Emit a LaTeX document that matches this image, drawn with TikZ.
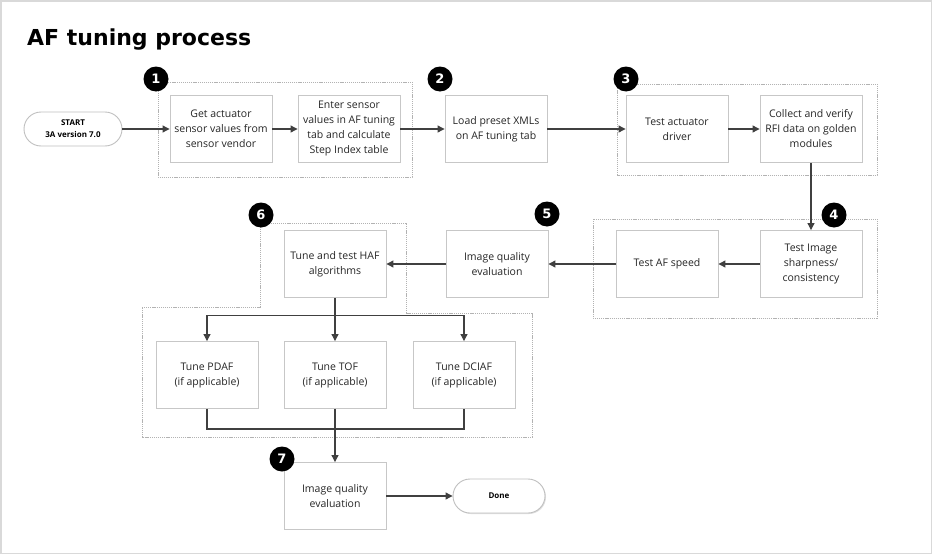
\documentclass[tikz,border=0pt]{standalone}
\usepackage{fontspec}
\setmainfont{Open Sans}
\newfontfamily\titlefont{DejaVu Sans}
\usetikzlibrary{arrows.meta,calc,shadows}

\tikzset{
  stepbox/.style={draw=black!22, line width=0.9pt, minimum width=102pt, minimum height=67pt,
    align=center, font=\fontsize{10.5}{15}\selectfont, text=black!85},
  pill/.style={draw=black!25, line width=0.9pt, rounded corners=17pt, minimum width=98pt,
    minimum height=34pt, align=center, font=\fontsize{8}{12}\selectfont\bfseries},
  badge/.style={circle, fill=black, minimum size=25pt, inner sep=0pt, text=white,
    font=\titlefont\fontsize{13}{13}\selectfont\bfseries},
  grp/.style={draw=black!30, line width=0.8pt, dash pattern=on 1.2pt off 0.9pt},
  link/.style={draw=black!75, line width=1.1pt, -{Triangle[length=7pt,width=7pt]}},
  wire/.style={draw=black!75, line width=1.1pt}
}

\begin{document}
\begin{tikzpicture}[x=1pt, y=-1pt]
			%%%%% START %%%%%
			
			\useasboundingbox (0, 0) rectangle (932, 554);
			\draw[black!15, line width=1.5pt] (0.75, 0.75) rectangle (931.25, 553.25);
			
			\node[anchor=base west, inner sep=0pt, font=\titlefont\fontsize{22}{22}\selectfont\bfseries] (title) at (27, 45) {AF tuning process};
			
			% dashed groups
			\draw[grp] (158, 82) rectangle (412, 177);
			\draw[grp] (617, 84) rectangle (877, 175);
			\draw[grp] (593, 219) rectangle (877, 318);
			\draw[grp] (260, 223) -- (406, 223) -- (406, 313) -- (532, 313) -- (532, 437) -- (142, 437) -- (142, 307) -- (260, 307) -- cycle;
			
			% first row
			\node[pill] (start) at (73, 129) {START\\3A version 7.0};
			\node[stepbox, fill=white] (getval) at (221, 129) {Get actuator\\sensor values from\\sensor vendor};
			\node[stepbox, fill=white] (enter) at (349, 129) {Enter sensor\\values in AF tuning\\tab and calculate\\Step Index table};
			\node[stepbox, fill=white] (load) at (496, 129) {Load preset XMLs\\on AF tuning tab};
			\node[stepbox, fill=white] (driver) at (677, 129) {Test actuator\\driver};
			\node[stepbox, fill=white] (collect) at (811, 129) {Collect and verify\\RFI data on golden\\modules};
			
			% second row
			\node[stepbox, fill=white] (sharp) at (811, 264) {Test Image\\sharpness/\\consistency};
			\node[stepbox, fill=white] (speed) at (667, 264) {Test AF speed};
			\node[stepbox, fill=white] (iqa) at (497, 264) {Image quality\\evaluation};
			\node[stepbox, fill=white] (haf) at (335, 264) {Tune and test HAF\\algorithms};
			
			% third row
			\node[stepbox, fill=white] (pdaf) at (207, 375) {Tune PDAF\\(if applicable)};
			\node[stepbox, fill=white] (tof) at (335, 375) {Tune TOF\\(if applicable)};
			\node[stepbox, fill=white] (dciaf) at (464, 375) {Tune DCIAF\\(if applicable)};
			
			% last row
			\node[stepbox, fill=white] (iqb) at (335, 496) {Image quality\\evaluation};
			\node[pill, fill=white, minimum width=92pt, drop shadow={opacity=0.25, shadow xshift=1pt, shadow yshift=-1pt}] (done) at (499, 496) {Done};
			
			% badges
			\node[badge] (b1) at (156, 79) {1};
			\node[badge] (b2) at (440, 79) {2};
			\node[badge] (b3) at (626, 79) {3};
			\node[badge] (b4) at (834, 215) {4};
			\node[badge] (b5) at (547, 214) {5};
			\node[badge] (b6) at (261, 215) {6};
			\node[badge] (b7) at (282, 459) {7};
			
			% connectors
			\draw[link] (start) -- (getval);
			\draw[link] (getval) -- (enter);
			\draw[link] (enter) -- (load);
			\draw[link] (load) -- (driver);
			\draw[link] (driver) -- (collect);
			\draw[link] (collect) -- (sharp);
			\draw[link] (sharp) -- (speed);
			\draw[link] (speed) -- (iqa);
			\draw[link] (iqa) -- (haf);
			\draw[link] (haf) -- (tof);
			\coordinate (split) at ($(haf.south)!0.4!(tof.north)$);
			\draw[link] (split) -| (pdaf.north);
			\draw[link] (split) -| (dciaf.north);
			\coordinate (merge) at (335, 429);
			\draw[wire] (pdaf.south) |- (merge) -| (dciaf.south);
			\draw[link] (tof) -- (iqb);
			\draw[link] (iqb) -- (done);
			
			%%%%% END %%%%%
\end{tikzpicture}
\end{document}
